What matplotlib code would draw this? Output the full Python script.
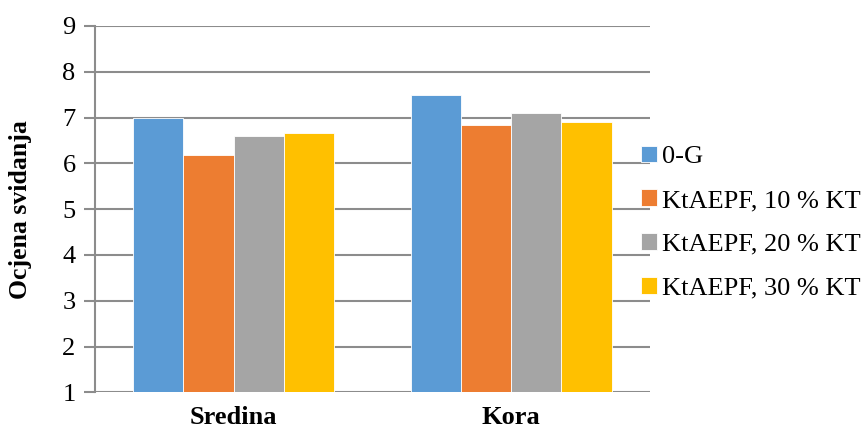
import matplotlib.pyplot as plt
import numpy as np

categories = ['Sredina', 'Kora']
series = ['0-G', 'KtAEPF, 10 % KT', 'KtAEPF, 20 % KT', 'KtAEPF, 30 % KT']
values_0g = [7.0, 7.5]
values_10 = [6.18, 6.84]
values_20 = [6.6, 7.1]
values_30 = [6.67, 6.91]
colors = ['#5B9BD5', '#ED7D31', '#A5A5A5', '#FFC000']

plt.rcParams['font.family'] = ['Liberation Serif', 'DejaVu Serif']

fig = plt.figure(figsize=(8.65, 4.34), dpi=100)
ax = fig.add_axes([0.1098, 0.0961, 0.6416, 0.844])

x = np.arange(len(categories))
width = 0.181
all_vals = [values_0g, values_10, values_20, values_30]
for i, (vals, name) in enumerate(zip(all_vals, series)):
    ax.bar(x + (i - 1.5) * width, np.array(vals) - 1, width, bottom=1,
           color=colors[i], label=name, edgecolor='white', linewidth=0.6, zorder=3)

ax.set_xlim(-0.5, 1.5)
ax.set_ylim(1, 9)
ax.set_yticks(range(1, 10))
ax.yaxis.grid(True, color='#8c8c8c', linewidth=1.5, zorder=0)
ax.set_axisbelow(True)
for s in ['top', 'right', 'bottom']:
    ax.spines[s].set_visible(False)
ax.spines['left'].set_color('#8c8c8c')
ax.spines['left'].set_linewidth(1.5)
ax.tick_params(axis='y', length=8, width=1.5, color='#8c8c8c', labelsize=19, pad=6)
ax.tick_params(axis='x', length=0, labelsize=19, pad=10)
ax.set_xticks(x)
ax.set_xticklabels(categories, fontweight='bold')
ax.set_ylabel('Ocjena svidanja', fontsize=18.5, fontweight='bold')
ax.yaxis.set_label_coords(-0.113, 0.5)

fig.legend(loc='center left', bbox_to_anchor=(0.741, 0.487), frameon=False,
           fontsize=19, handlelength=0.6, handleheight=0.6, handletextpad=0.2,
           labelspacing=0.8, borderpad=0, borderaxespad=0)

plt.savefig('out.png', dpi=100)
